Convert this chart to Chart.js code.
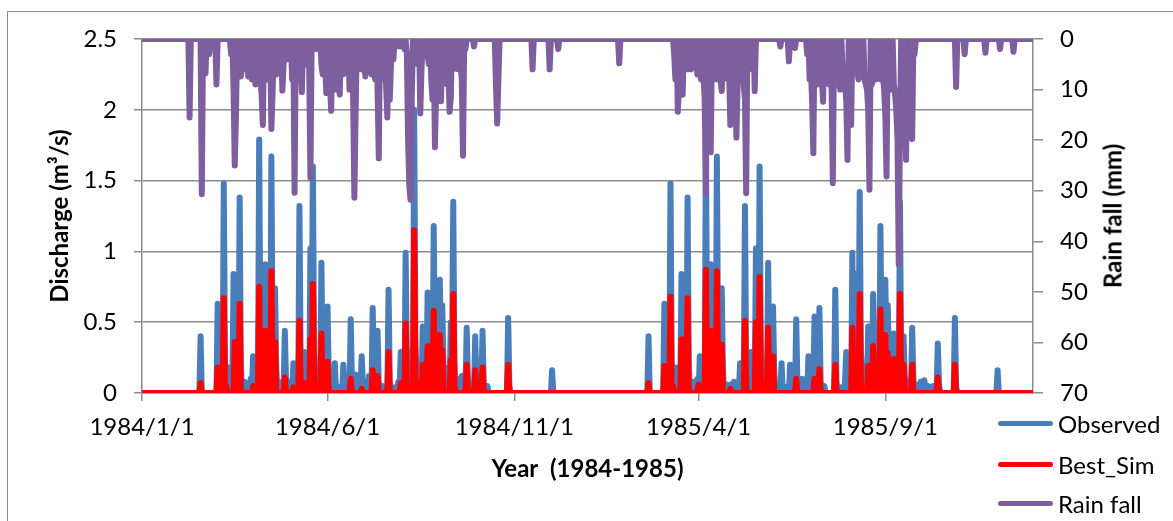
<!DOCTYPE html>
<html>
<head>
<meta charset="utf-8">
<script src="https://cdn.jsdelivr.net/npm/chart.js@4.4.1/dist/chart.umd.min.js"></script>
<style>
  html, body { margin: 0; padding: 0; background: #fff; }
  #wrap { position: relative; width: 1173px; height: 521px; overflow: hidden; background: #fff; }
  #frame { position: absolute; left: 7px; top: 11px; width: 1300px; height: 700px; border: 1.5px solid #8c8c8c; box-sizing: border-box; }
  canvas { position: absolute; left: 0; top: 0; }
  .lg { position: absolute; left: 998px; height: 30px; font: 24px Lato, sans-serif; color: #000; white-space: nowrap; }
  .lg .sw { position: absolute; left: 0; top: 12px; width: 55px; height: 5px; border-radius: 3px; }
  .lg .tx { position: absolute; left: 60px; top: 0; line-height: 30px; }
  #rtitle { position: absolute; left: 1112px; top: 216px; transform: translate(-50%, -50%) rotate(-90deg); font: bold 24px Lato, sans-serif; color: #000; white-space: nowrap; }
</style>
</head>
<body>
<div id="wrap">
  <div id="frame"></div>
  <canvas id="c" width="1173" height="521"></canvas>
  <div id="rtitle">Rain fall (mm)</div>
  <div class="lg" style="top:409px"><div class="sw" style="background:#4a7ebb"></div><div class="tx">Observed</div></div>
  <div class="lg" style="top:450px"><div class="sw" style="background:#ff0000"></div><div class="tx">Best_Sim</div></div>
  <div class="lg" style="top:489px"><div class="sw" style="background:#7d5fa0"></div><div class="tx">Rain fall</div></div>
</div>
<script>
// Day index 0 = 1984/1/1, 730 = 1985/12/31
const dayCount = 731;
const tickDays = [0, 152, 305, 456, 609];
const tickLabels = ['1984/1/1', '1984/6/1', '1984/11/1', '1985/4/1', '1985/9/1'];

// Observed discharge (m3/s): [day, value], all other days 0
const observed1984 = [[48,0.40],[62,0.63],[63,0.08],[67,1.48],[68,0.22],[69,0.10],[71,0.18],[75,0.84],[76,0.15],[80,1.38],[81,0.18],[84,0.08],[86,0.06],[89,0.10],[91,0.26],[92,0.08],[96,1.79],[97,0.30],[98,0.18],[99,0.42],[101,0.91],[102,0.28],[103,0.15],[106,1.67],[107,0.35],[108,0.15],[109,0.74],[110,0.18],[112,0.08],[114,0.06],[117,0.44],[118,0.10],[121,0.08],[122,0.05],[124,0.21],[126,0.08],[129,1.32],[130,0.20],[131,0.08],[133,0.29],[134,0.06],[138,1.02],[139,0.30],[140,1.60],[141,0.30],[143,0.10],[145,0.12],[147,0.92],[148,0.20],[150,0.10],[152,0.61],[153,0.15],[155,0.06],[158,0.21],[160,0.05],[165,0.20],[167,0.05],[171,0.52],[172,0.06],[175,0.13],[177,0.05],[180,0.26],[181,0.06],[184,0.08],[186,0.12],[189,0.60],[190,0.18],[193,0.44],[194,0.06],[197,0.05],[202,0.73],[203,0.08],[207,0.04],[210,0.08],[212,0.29],[213,0.06],[216,0.99],[217,0.20],[219,0.30],[220,0.12],[223,2.00],[224,0.35],[225,0.12],[228,0.10],[230,0.47],[231,0.20],[234,0.71],[235,0.25],[237,0.15],[239,1.18],[240,0.30],[241,0.15],[244,0.80],[245,0.25],[246,0.62],[247,0.20],[249,0.10],[251,0.18],[253,0.50],[254,0.22],[255,1.35],[256,0.22],[258,0.10],[260,0.08],[262,0.12],[266,0.46],[267,0.10],[269,0.06],[273,0.40],[274,0.08],[276,0.05],[279,0.44],[280,0.06],[283,0.05],[300,0.53],[301,0.05],[336,0.16]];
const observed1985 = [[415,0.40],[428,0.63],[429,0.08],[433,1.48],[434,0.22],[435,0.10],[438,0.18],[442,0.84],[443,0.15],[447,1.38],[448,0.18],[451,0.08],[454,0.08],[455,0.10],[457,0.26],[458,0.08],[462,1.79],[463,0.35],[464,0.18],[466,0.91],[467,0.28],[468,0.15],[471,1.67],[472,0.30],[475,0.74],[476,0.15],[479,0.06],[482,0.06],[485,0.08],[490,0.21],[491,0.06],[494,1.32],[495,0.20],[496,0.08],[499,0.29],[500,0.06],[503,1.02],[504,0.30],[506,1.60],[507,0.30],[509,0.10],[511,0.12],[513,0.92],[514,0.20],[517,0.61],[518,0.15],[521,0.06],[524,0.21],[526,0.05],[531,0.20],[533,0.05],[536,0.52],[537,0.06],[541,0.10],[543,0.05],[546,0.26],[547,0.06],[549,0.08],[551,0.54],[552,0.15],[555,0.60],[556,0.08],[559,0.05],[568,0.73],[569,0.08],[573,0.04],[576,0.08],[577,0.29],[578,0.06],[580,0.10],[582,0.99],[583,0.20],[585,0.84],[586,0.15],[588,1.42],[589,0.30],[590,0.12],[593,0.10],[595,0.47],[596,0.20],[599,0.70],[600,0.25],[602,0.15],[605,1.18],[606,0.30],[607,0.15],[609,0.80],[610,0.25],[611,0.62],[612,0.20],[614,0.10],[616,0.42],[617,0.18],[619,0.22],[621,1.35],[622,0.22],[624,0.40],[625,0.10],[627,0.08],[631,0.46],[632,0.10],[634,0.06],[638,0.08],[641,0.09],[644,0.05],[648,0.05],[652,0.35],[653,0.06],[666,0.53],[667,0.05],[701,0.16]];

// Best simulation (m3/s)
const bestSim1984 = [[48,0.07],[62,0.18],[67,0.67],[69,0.05],[76,0.36],[80,0.63],[91,0.05],[96,0.75],[97,0.08],[99,0.12],[101,0.44],[103,0.05],[106,0.86],[107,0.10],[109,0.36],[117,0.11],[124,0.04],[129,0.51],[130,0.05],[133,0.07],[138,0.38],[140,0.77],[141,0.08],[147,0.42],[148,0.06],[152,0.22],[171,0.10],[180,0.03],[189,0.16],[193,0.12],[202,0.29],[212,0.07],[216,0.49],[217,0.05],[223,1.15],[224,0.12],[230,0.20],[234,0.33],[239,0.58],[240,0.06],[244,0.41],[246,0.30],[253,0.23],[255,0.70],[256,0.06],[266,0.20],[273,0.16],[279,0.18],[300,0.20]];
const bestSim1985 = [[415,0.07],[428,0.19],[433,0.68],[435,0.05],[442,0.38],[447,0.67],[456,0.06],[462,0.87],[463,0.10],[464,0.08],[466,0.44],[468,0.05],[471,0.86],[472,0.10],[475,0.34],[482,0.03],[494,0.51],[495,0.05],[503,0.50],[506,0.82],[507,0.08],[513,0.46],[514,0.05],[517,0.26],[536,0.10],[551,0.10],[555,0.17],[568,0.20],[582,0.46],[583,0.05],[588,0.70],[589,0.06],[595,0.19],[599,0.33],[605,0.59],[606,0.06],[609,0.41],[611,0.28],[616,0.24],[621,0.70],[622,0.06],[624,0.20],[631,0.20],[652,0.11],[666,0.20]];

// Rainfall (mm)
const rain1984 = [[39,15.5],[49,30.7],[52,6.8],[55,3],[61,9],[73,3],[75,10],[76,25],[77,15],[79,6],[81,7.4],[82,5],[84,6],[86,3],[87,7.4],[89,5],[90,8],[92,6],[93,9],[95,5],[97,8],[98,11],[99,17],[101,6],[103,8],[104,6],[106,17.8],[107,10.7],[109,4],[110,7],[112,3],[113,6],[115,10.2],[116,5],[118,2],[119,4],[121,2],[123,8],[125,30.4],[127,3],[128,5],[130,4],[131,10.5],[133,2],[134,5],[136,2],[137,6],[138,27.5],[141,1],[143,2],[145,1],[147,5],[148,7],[150,4],[151,10.7],[153,6],[154,9],[155,14.2],[157,6],[158,10],[160,5],[161,9],[162,11],[164,6],[165,7],[167,4],[168,6],[170,10],[171,6],[173,12],[174,31.4],[175,15],[177,6],[179,5],[180,6],[182,4],[183,7.4],[185,6],[187,5],[188,7],[190,6],[191,8],[193,10],[194,23.6],[196,4],[198,5],[199,7],[200,9],[201,15.5],[203,12],[204,5],[206,4],[209,1],[211,1.5],[213,1],[215,2],[217,3],[218,20],[219,29],[220,31.8],[221,12],[223,4],[225,2],[226,5],[228,14.7],[229,6],[231,1],[233,1],[234,3],[235,5],[237,8],[238,12],[240,21.4],[241,10],[243,6],[244,9],[245,12.3],[247,6],[248,5],[250,9],[251,6],[252,14.4],[253,11.7],[255,6],[256,4],[258,3],[259,6],[261,5],[262,8],[263,23.1],[265,2],[272,1.5],[290,9],[291,16.7],[292,8],[320,6],[334,6],[341,2]];
const rain1985 = [[391,4.8],[436,3],[437,8],[439,14.4],[440,9],[442,10.3],[443,11],[445,5],[447,6],[449,5],[450,6],[452,5],[454,4],[455,7],[457,6],[458,8],[460,7],[461,12],[462,30.5],[464,6],[465,9],[466,22.4],[468,6],[469,7],[471,8],[473,5],[474,8],[475,10.3],[477,4],[478,7],[480,8],[481,6],[482,17],[484,7],[486,8],[487,19.5],[488,9],[490,5],[491,8],[493,9],[494,12],[495,30.5],[497,5],[499,3],[500,6],[502,10.3],[523,1.5],[530,4.4],[532,1],[535,1.8],[545,3],[547,8],[548,6],[549,12],[550,22.6],[552,6],[553,9],[555,5],[556,6],[557,8],[558,12.4],[560,8],[561,5],[563,9],[564,6],[565,10],[566,28.5],[568,6],[569,9],[571,5],[572,10],[574,6],[575,7],[576,9],[577,12],[578,23.9],[580,8],[581,17],[583,6],[584,5],[586,6],[587,8],[589,7],[590,6],[592,8],[593,9],[594,10],[595,14],[596,29.8],[598,9],[599,7],[601,8],[602,5],[604,6],[605,8],[607,7],[608,10],[609,15],[610,27.2],[612,9],[613,8],[614,10],[616,9],[617,11],[618,14],[619,20],[620,44.6],[621,18],[623,9],[624,8],[625,12],[626,23.9],[628,12],[629,15],[630,18],[631,19.8],[633,3],[667,9.5],[674,3],[691,2.7],[703,2],[714,2.5]];

function daily(...lists) {
  const arr = new Array(dayCount).fill(0);
  lists.forEach(l => l.forEach(([d, v]) => { arr[d] = v; }));
  return arr.map((v, i) => ({ x: i, y: v }));
}

const tickFont = { family: 'Lato', size: 24 };
const titleFont = { family: 'Lato', size: 24, weight: 'bold' };
const gray = '#8c8c8c';

new Chart(document.getElementById('c'), {
  type: 'line',
  data: {
    datasets: [
      { label: 'Observed', data: daily(observed1984, observed1985), borderColor: '#4a7ebb', backgroundColor: '#4a7ebb', yAxisID: 'y', order: 3 },
      { label: 'Best_Sim', data: daily(bestSim1984, bestSim1985), borderColor: '#ff0000', backgroundColor: '#ff0000', yAxisID: 'y', order: 2 },
      { label: 'Rain fall', data: daily(rain1984, rain1985), borderColor: '#7d5fa0', backgroundColor: '#7d5fa0', yAxisID: 'y2', order: 1 }
    ]
  },
  options: {
    responsive: false,
    animation: false,
    layout: { padding: { top: 39, left: 0, right: 0, bottom: 0 } },
    plugins: { legend: { display: false }, tooltip: { enabled: false } },
    elements: {
      point: { radius: 0 },
      line: { tension: 0, borderWidth: 6, borderJoinStyle: 'round', borderCapStyle: 'round' }
    },
    scales: {
      x: {
        type: 'linear', min: 0, max: 730,
        afterBuildTicks: s => { s.ticks = tickDays.map(v => ({ value: v })); },
        afterFit: s => { s.height = 128; },
        ticks: { callback: v => tickLabels[tickDays.indexOf(v)], font: tickFont, color: '#000', maxRotation: 0, autoSkip: false, padding: 12 },
        grid: { drawOnChartArea: false, drawTicks: true, tickLength: 8, color: gray, lineWidth: 1.5 },
        border: { display: true, color: gray, width: 1.5 },
        title: { display: true, text: 'Year  (1984-1985)', font: titleFont, color: '#000', padding: { top: 0, bottom: 37 } }
      },
      y: {
        position: 'left', min: 0, max: 2.5,
        afterFit: s => { s.width = 142; },
        ticks: { stepSize: 0.5, font: tickFont, color: '#000', padding: 17, callback: v => String(Number(v.toFixed(2))) },
        grid: { color: gray, lineWidth: 1.5, tickLength: 8 },
        border: { display: true, color: gray, width: 1.5 },
        title: { display: true, text: 'Discharge (m³/s)', font: titleFont, color: '#000', padding: { top: 46, bottom: 0 } }
      },
      y2: {
        position: 'right', reverse: true, min: 0, max: 70,
        afterFit: s => { s.width = 140; },
        ticks: { stepSize: 10, font: tickFont, color: '#000', padding: 17 },
        grid: { drawOnChartArea: false, tickLength: 10, color: gray, lineWidth: 1.5 },
        border: { display: true, color: gray, width: 1.5 }
      }
    }
  }
});
</script>
</body>
</html>
